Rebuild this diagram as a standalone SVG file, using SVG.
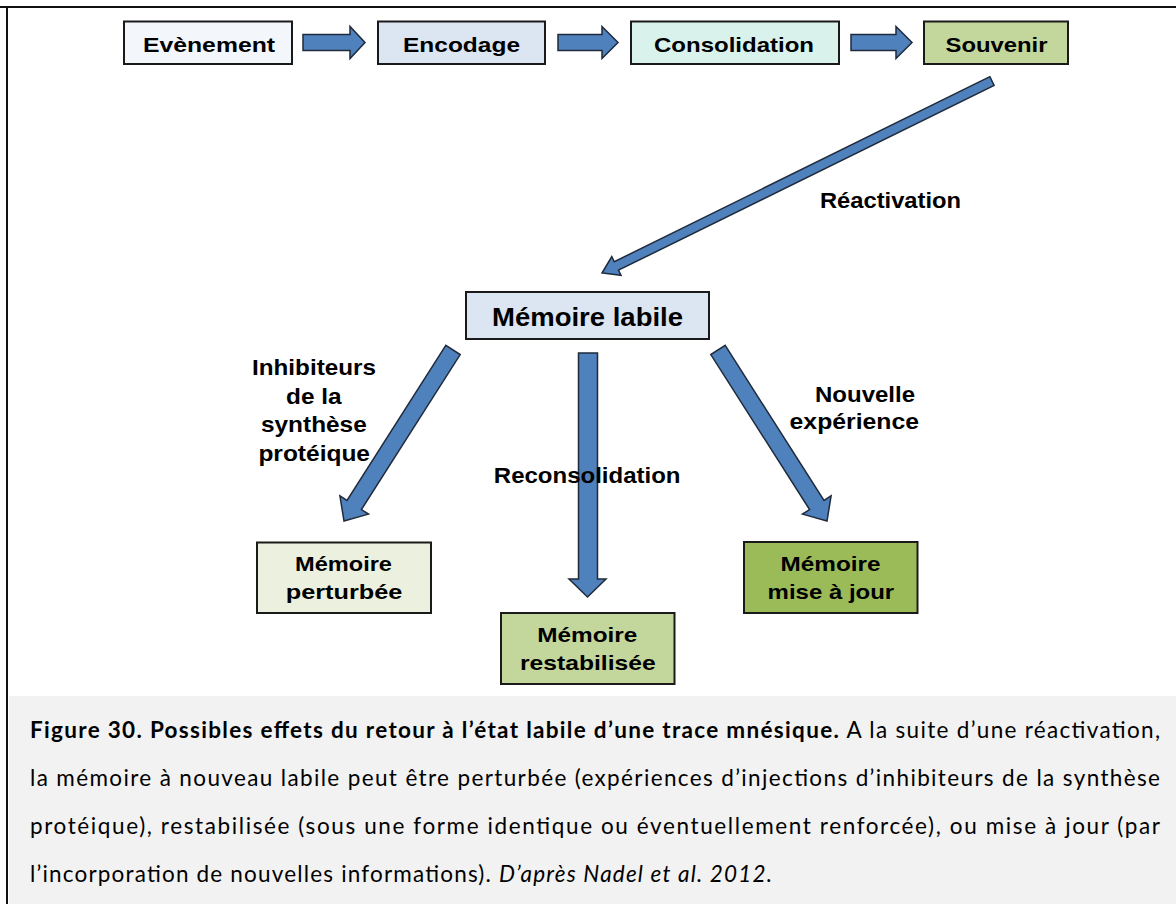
<svg xmlns="http://www.w3.org/2000/svg" width="1176" height="904" viewBox="0 0 1176 904">
<style>
.box{stroke:#1a1a1a;stroke-width:2}
.arr{fill:#4f81bd;stroke:#1f2a3a;stroke-width:1.5;stroke-linejoin:miter}
.lbl{font-family:"Liberation Sans",Arial,sans-serif;font-weight:bold;fill:#000}
.t20{font-size:20.5px}
.t21{font-size:21.5px}
.cap{font-family:Lato,"Open Sans",sans-serif;font-size:22.5px;fill:#000}
</style>
<rect x="0" y="0" width="1176" height="904" fill="#ffffff"/>
<rect x="9" y="696" width="1167" height="208" fill="#f2f2f2"/>
<path d="M0,7 H1176 M7,7 V904" fill="none" stroke="#111" stroke-width="2"/>

<g id="connectors">
  <path class="arr" d="M303,34.5 H350 V26.5 L365,42.5 L350,58.5 V50.5 H303 Z"/>
  <path class="arr" d="M558,34.5 H602 V26.5 L618,42.5 L602,58.5 V50.5 H558 Z"/>
  <path class="arr" d="M851,34.5 H896 V26.5 L912,42.5 L896,58.5 V50.5 H851 Z"/>
  <path class="arr" d="M989.9,76.7 L614.3,261.7 L611.8,256.5 L602,273 L621,275.3 L618.5,270.2 L994.1,85.3 Z"/>
  <path class="arr" d="M445.8,345.4 L347,500.4 L339.9,495.9 L344,521 L368.5,514.1 L361.4,509.6 L460.2,354.6 Z"/>
  <path class="arr" d="M578.5,353 H597.5 V579 H606 L587.5,597 L569,579 H578.5 Z"/>
  <path class="arr" d="M725.2,345.4 L824,500.4 L831.1,495.9 L827,521 L802.5,514.1 L809.6,509.6 L710.8,354.6 Z"/>
</g>

<g id="node-evenement">
  <rect class="box" x="124" y="21.5" width="168" height="42.5" fill="#f3f6fb"/>
  <text class="lbl t20" x="143" y="51.5" textLength="132" lengthAdjust="spacingAndGlyphs">Evènement</text>
</g>
<g id="node-encodage">
  <rect class="box" x="378" y="21.5" width="167" height="42.5" fill="#dce6f2"/>
  <text class="lbl t20" x="403" y="51.5" textLength="117" lengthAdjust="spacingAndGlyphs">Encodage</text>
</g>
<g id="node-consolidation">
  <rect class="box" x="631" y="21.5" width="208" height="42.5" fill="#daf2ec"/>
  <text class="lbl t20" x="654" y="51.5" textLength="160" lengthAdjust="spacingAndGlyphs">Consolidation</text>
</g>
<g id="node-souvenir">
  <rect class="box" x="924" y="21.5" width="144" height="42.5" fill="#c3d69b"/>
  <text class="lbl t20" x="945.5" y="51.5" textLength="102" lengthAdjust="spacingAndGlyphs">Souvenir</text>
</g>
<g id="node-memoire-labile">
  <rect class="box" x="466" y="292" width="243" height="47" fill="#dce6f2"/>
  <text class="lbl" style="font-size:25.5px" x="492" y="326" textLength="191" lengthAdjust="spacingAndGlyphs">Mémoire labile</text>
</g>
<g id="node-memoire-perturbee">
  <rect class="box" x="257" y="542.5" width="174" height="70.5" fill="#ebf1de"/>
  <text class="lbl t20" x="295" y="571" textLength="97" lengthAdjust="spacingAndGlyphs">Mémoire</text>
  <text class="lbl t20" x="285.7" y="599" textLength="116.6" lengthAdjust="spacingAndGlyphs">perturbée</text>
</g>
<g id="node-memoire-restabilisee">
  <rect class="box" x="501" y="613" width="173.5" height="71" fill="#c3d69b"/>
  <text class="lbl t20" x="537.3" y="642" textLength="100" lengthAdjust="spacingAndGlyphs">Mémoire</text>
  <text class="lbl t20" x="520" y="670" textLength="135.7" lengthAdjust="spacingAndGlyphs">restabilisée</text>
</g>
<g id="node-memoire-mise-a-jour">
  <rect class="box" x="744" y="542" width="173.5" height="71" fill="#9bbb59"/>
  <text class="lbl t20" x="780.5" y="571" textLength="100" lengthAdjust="spacingAndGlyphs">Mémoire</text>
  <text class="lbl t20" x="767.6" y="599" textLength="126.6" lengthAdjust="spacingAndGlyphs">mise à jour</text>
</g>

<g id="labels">
  <text class="lbl t21" x="820" y="208" textLength="141" lengthAdjust="spacingAndGlyphs">Réactivation</text>
  <text class="lbl t21" x="252" y="375" textLength="124" lengthAdjust="spacingAndGlyphs">Inhibiteurs</text>
  <text class="lbl t21" x="286" y="403.6" textLength="55.5" lengthAdjust="spacingAndGlyphs">de la</text>
  <text class="lbl t21" x="261" y="432.2" textLength="105.7" lengthAdjust="spacingAndGlyphs">synthèse</text>
  <text class="lbl t21" x="258.4" y="460.8" textLength="111.6" lengthAdjust="spacingAndGlyphs">protéique</text>
  <text class="lbl t21" x="493.8" y="483" textLength="186.7" lengthAdjust="spacingAndGlyphs">Reconsolidation</text>
  <text class="lbl t21" x="815" y="401.5" textLength="100" lengthAdjust="spacingAndGlyphs">Nouvelle</text>
  <text class="lbl t21" x="789.6" y="429" textLength="129.4" lengthAdjust="spacingAndGlyphs">expérience</text>
</g>

<g id="caption">
  <text class="cap" x="30" y="738" textLength="1130" lengthAdjust="spacing"><tspan font-weight="bold">Figure 30. Possibles effets du retour à l’état labile d’une trace mnésique.</tspan> A la suite d’une réactivation,</text>
  <text class="cap" x="30" y="786" textLength="1130" lengthAdjust="spacing">la mémoire à nouveau labile peut être perturbée (expériences d’injections d’inhibiteurs de la synthèse</text>
  <text class="cap" x="30" y="834" textLength="1130" lengthAdjust="spacing">protéique), restabilisée (sous une forme identique ou éventuellement renforcée), ou mise à jour (par</text>
  <text class="cap" x="30" y="882" textLength="742" lengthAdjust="spacing">l’incorporation de nouvelles informations). <tspan font-style="italic">D’après Nadel et al. 2012.</tspan></text>
</g>
</svg>
